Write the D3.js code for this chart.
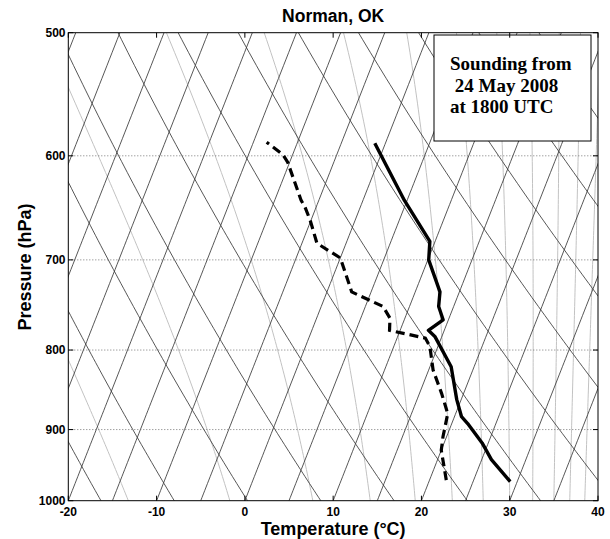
<!DOCTYPE html>
<html>
<head>
<meta charset="utf-8">
<script src="https://cdn.jsdelivr.net/npm/d3@7"></script>
<style>
  body { margin: 0; background: #fff; }
  svg { display: block; }
  text { font-family: "Liberation Sans", Arial, sans-serif; font-weight: bold; fill: #000; }
</style>
</head>
<body>
<svg id="chart" width="610" height="539"></svg>
<script>
// sounding, Norman OK, 24 May 2008 18 UTC
var tempP = [972, 941, 918, 892, 883, 861, 820, 784, 777, 765, 750, 734, 700, 681, 641, 589];
var tempT = [29.2, 26.1, 24.3, 21.8, 20.8, 19.5, 17.4, 14.2, 13.2, 14.4, 13.3, 12.8, 10.1, 9.4, 4.7, -1.2];
var dewP = [970, 928, 910, 879, 853, 824, 796, 786, 777, 763, 750, 734, 698, 683, 660, 647, 641, 606, 599, 588];
var dewT = [21.9, 20.0, 19.6, 19.1, 17.5, 15.5, 14.1, 13.2, 8.8, 8.3, 7.0, 2.8, 0.0, -3.3, -5.1, -6.3, -7.0, -10.2, -11.1, -13.5];

var tempTicks = [-20, -10, 0, 10, 20, 30, 40];
var pressTicks = [500, 600, 700, 800, 900, 1000];
var gridPress = [600, 700, 800, 900];

// background diagram lines (deg C at 1000 hPa)
var isotherms = d3.range(-60, 45, 5);
var dryAdiabats = [-16.3, -8.0, 0.3, 8.6, 16.9, 25.2, 33.5, 41.8, 50.1, 58.4, 66.7, 75.0, 83.3];
var moistAdiabats = [-13.2, -1.7, 7.7, 14.2, 19.3, 23.5, 27.0, 30.0, 32.6, 35.0, 36.8, 38.5, 40.2, 41.8];

var legendLines = ["Sounding from", " 24 May 2008", "at 1800 UTC"];

(function () {
	var svg = d3.select("#chart");
	var pLeft = 68.3, pRight = 598, pTop = 32.7, pBottom = 500.7;

	var x = d3.scaleLinear().domain([-20, 40]).range([pLeft, pRight]);
	var y = d3.scaleLog().domain([1000, 500]).range([pBottom, pTop]);
	var skew = 0.3932;

	function px(T, p) {
		return x(T) + skew * (y(1000) - y(p));
	}

	var levels = d3.range(1000, 495, -5);
	var line = d3.line().x(function (d) { return px(d[0], d[1]); }).y(function (d) { return y(d[1]); });

	// pseudo-adiabatic lapse rate dT/dp (K/hPa)
	function dTdp(T, p) {
		var Rd = 287.04, cp = 1005.7, Lv = 2.501e6, eps = 0.622;
		var Tc = T - 273.15;
		var es = 6.112 * Math.exp(17.67 * Tc / (Tc + 243.5));
		var rs = eps * es / (p - es);
		return (Rd * T + Lv * rs) / (cp + Lv * Lv * rs * eps / (Rd * T * T)) / p;
	}

	function moistPath(T0) {
		var T = T0 + 273.15, pts = [[T0, 1000]];
		for (var i = 1; i < levels.length; i++) {
			var p0 = levels[i - 1], p1 = levels[i], dp = p1 - p0;
			var k1 = dTdp(T, p0);
			var k2 = dTdp(T + k1 * dp, p1);
			T += 0.5 * (k1 + k2) * dp;
			pts.push([T - 273.15, p1]);
		}
		return pts;
	}

	svg.append("rect").attr("width", 610).attr("height", 539).attr("fill", "#fff");

	svg.append("clipPath").attr("id", "plotClip")
		.append("rect").attr("x", pLeft).attr("y", pTop)
		.attr("width", pRight - pLeft).attr("height", pBottom - pTop);

	var bg = svg.append("g").attr("clip-path", "url(#plotClip)");

	bg.selectAll(".moist").data(moistAdiabats).enter().append("path")
		.attr("d", function (d) { return line(moistPath(d)); })
		.attr("fill", "none").attr("stroke", "#c2c2c2").attr("stroke-width", 1);

	bg.selectAll(".iso").data(isotherms).enter().append("path")
		.attr("d", function (d) { return line(levels.map(function (p) { return [d, p]; })); })
		.attr("fill", "none").attr("stroke", "#383838").attr("stroke-width", 0.85);

	bg.selectAll(".dry").data(dryAdiabats).enter().append("path")
		.attr("d", function (d) {
			var th = d + 273.15;
			return line(levels.map(function (p) { return [th * Math.pow(p / 1000, 0.2857) - 273.15, p]; }));
		})
		.attr("fill", "none").attr("stroke", "#383838").attr("stroke-width", 0.85);

	bg.selectAll(".grid").data(gridPress).enter().append("line")
		.attr("x1", pLeft).attr("x2", pRight)
		.attr("y1", function (d) { return y(d); }).attr("y2", function (d) { return y(d); })
		.attr("stroke", "#555").attr("stroke-width", 0.8).attr("stroke-dasharray", "1,2");

	// sounding
	var snd = svg.append("g").attr("clip-path", "url(#plotClip)");
	snd.append("path")
		.attr("d", line(dewT.map(function (t, i) { return [t, dewP[i]]; })))
		.attr("fill", "none").attr("stroke", "#000").attr("stroke-width", 3.2)
		.attr("stroke-dasharray", "9,5");
	snd.append("path")
		.attr("d", line(tempT.map(function (t, i) { return [t, tempP[i]]; })))
		.attr("fill", "none").attr("stroke", "#000").attr("stroke-width", 3.4)
		.attr("stroke-linejoin", "round");

	// legend box
	svg.append("rect").attr("x", 434).attr("y", 35).attr("width", 157).attr("height", 106)
		.attr("fill", "#fff").attr("stroke", "#000").attr("stroke-width", 1);
	svg.selectAll(".leg").data(legendLines).enter().append("text")
		.attr("x", 450).attr("y", function (d, i) { return 70 + i * 21.6; })
		.attr("xml:space", "preserve")
		.style("font-family", "'Liberation Serif', 'Times New Roman', serif")
		.style("font-size", "19px")
		.text(function (d) { return d; });

	// frame and ticks
	svg.append("rect").attr("x", pLeft).attr("y", pTop).attr("width", pRight - pLeft).attr("height", pBottom - pTop)
		.attr("fill", "none").attr("stroke", "#000").attr("stroke-width", 1);

	var ticks = svg.append("g").attr("stroke", "#000").attr("stroke-width", 1);
	tempTicks.forEach(function (t) {
		ticks.append("line").attr("x1", x(t)).attr("x2", x(t)).attr("y1", pBottom).attr("y2", pBottom - 5);
		ticks.append("line").attr("x1", x(t)).attr("x2", x(t)).attr("y1", pTop).attr("y2", pTop + 5);
	});
	pressTicks.forEach(function (p) {
		ticks.append("line").attr("x1", pLeft).attr("x2", pLeft + 5).attr("y1", y(p)).attr("y2", y(p));
		ticks.append("line").attr("x1", pRight).attr("x2", pRight - 5).attr("y1", y(p)).attr("y2", y(p));
	});

	svg.selectAll(".xl").data(tempTicks).enter().append("text")
		.attr("x", function (d) { return x(d); }).attr("y", 515.5)
		.attr("text-anchor", "middle").style("font-size", "12px")
		.text(function (d) { return d; });

	svg.selectAll(".yl").data(pressTicks).enter().append("text")
		.attr("x", 65.5).attr("y", function (d) { return y(d) + 4.2; })
		.attr("text-anchor", "end").style("font-size", "12px")
		.text(function (d) { return d; });

	svg.append("text").attr("x", (pLeft + pRight) / 2).attr("y", 22)
		.attr("text-anchor", "middle").style("font-size", "17.5px").text("Norman, OK");
	svg.append("text").attr("x", (pLeft + pRight) / 2).attr("y", 535)
		.attr("text-anchor", "middle").style("font-size", "18px").text("Temperature (°C)");
	svg.append("text").attr("transform", "translate(30.5,267) rotate(-90)")
		.attr("text-anchor", "middle").style("font-size", "18px").text("Pressure (hPa)");
})();
</script>
</body>
</html>
